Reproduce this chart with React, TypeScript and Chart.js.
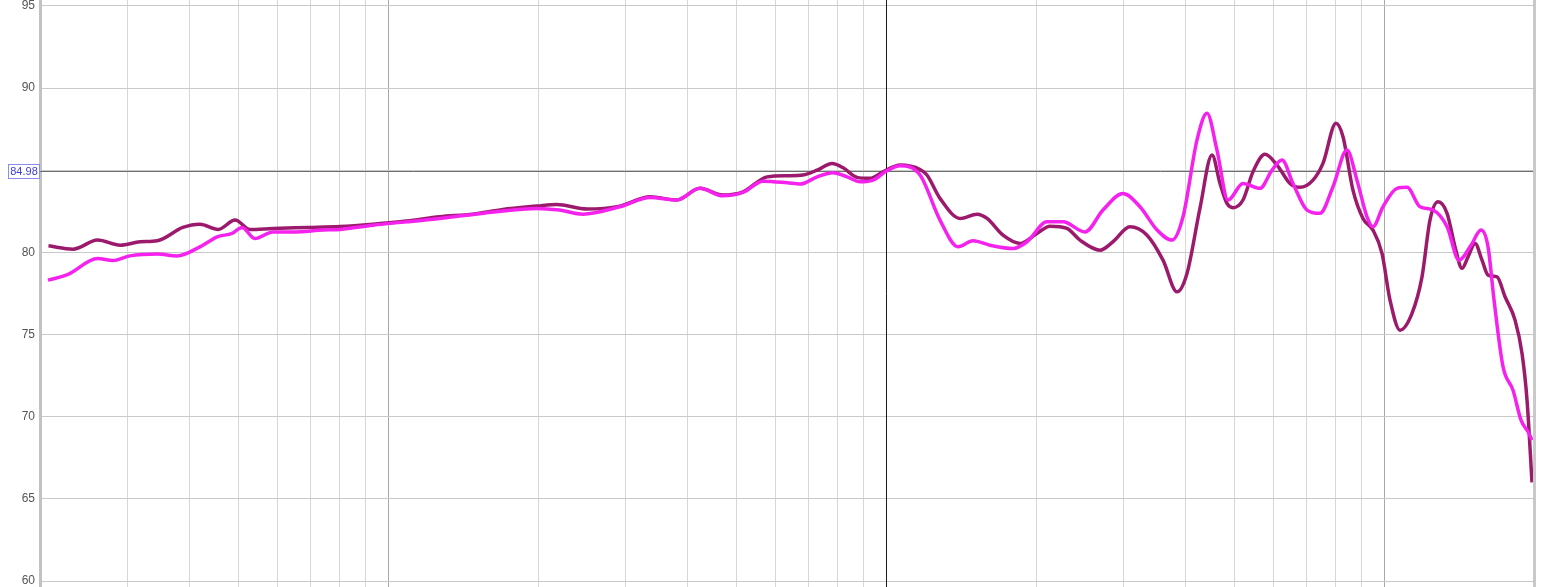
import { useEffect, useRef } from "react";
import { Chart, registerables } from "chart.js";

Chart.register(...registerables);

// Frequency response (Hz → dB SPL)
const freqDark = [20.8, 23.3, 26.1, 29.0, 31.8, 34.4, 38.7, 41.9, 45.6, 49.3, 52.8, 58.7, 68.8, 80.1, 93.3, 109, 127, 148, 170, 199, 218, 251, 292, 336, 380, 423, 470, 516, 577, 633, 681, 727, 779, 820, 874, 928, 986, 1067, 1170, 1208, 1283, 1408, 1523, 1595, 1717, 1858, 2009, 2134, 2308, 2451, 2689, 2855, 3088, 3342, 3598, 3839, 4020, 4269, 4513, 4683, 4837, 4973, 5208, 5455, 5766, 6096, 6472, 6778, 7198, 7538, 8006, 8270, 8660, 9070, 9500, 9904, 10278, 10764, 11378, 11916, 12364, 12834, 13380, 13882, 14338, 14742, 15228, 15728, 16172, 16860, 17494, 18322, 18924, 19368, 19816];
const splDark = [80.40, 80.20, 80.75, 80.44, 80.65, 80.71, 81.52, 81.72, 81.40, 81.97, 81.40, 81.46, 81.52, 81.58, 81.72, 81.91, 82.17, 82.33, 82.62, 82.82, 82.92, 82.64, 82.82, 83.39, 83.19, 83.90, 83.49, 83.69, 84.60, 84.67, 84.71, 85.01, 85.42, 85.15, 84.57, 84.51, 84.91, 85.32, 85.05, 84.71, 83.29, 82.07, 82.33, 82.07, 81.05, 80.55, 81.16, 81.60, 81.46, 80.75, 80.14, 80.65, 81.56, 81.05, 79.53, 77.60, 78.72, 82.70, 85.93, 84.20, 82.98, 82.72, 83.19, 84.91, 85.97, 85.32, 84.20, 83.96, 84.40, 85.42, 87.86, 87.04, 83.79, 82.07, 81.36, 79.94, 77.10, 75.27, 76.29, 78.51, 81.97, 83.08, 82.38, 80.34, 79.03, 79.73, 80.55, 79.53, 78.62, 78.51, 77.30, 75.88, 73.85, 71.00, 66.00];

const freqBright = [20.75, 22.76, 26.1, 28.0, 30.3, 34.4, 37.7, 41.9, 45.4, 48.6, 50.9, 54.0, 58.7, 64.4, 74.0, 80.1, 93.3, 109, 127, 148, 170, 199, 221, 246, 292, 336, 380, 423, 470, 516, 566, 633, 672, 727, 783, 835, 887, 941, 1004, 1067, 1170, 1283, 1395, 1495, 1617, 1798, 1919, 2104, 2266, 2509, 2726, 2990, 3235, 3501, 3751, 3947, 4210, 4410, 4618, 4860, 5208, 5634, 5956, 6238, 6562, 7002, 7434, 7896, 8424, 8822, 9240, 9500, 9950, 10616, 11118, 11806, 12540, 13380, 14140, 14948, 15656, 16172, 16626, 17334, 18152, 18836, 19544, 19816];
const splBright = [78.31, 78.66, 79.63, 79.51, 79.79, 79.90, 79.79, 80.34, 80.95, 81.16, 81.52, 80.85, 81.25, 81.25, 81.36, 81.40, 81.66, 81.86, 82.07, 82.31, 82.52, 82.68, 82.58, 82.33, 82.78, 83.35, 83.19, 83.90, 83.45, 83.65, 84.34, 84.24, 84.16, 84.60, 84.85, 84.60, 84.30, 84.40, 84.97, 85.27, 84.71, 81.97, 80.34, 80.71, 80.44, 80.24, 80.65, 81.86, 81.86, 81.25, 82.58, 83.59, 82.78, 81.36, 80.75, 82.17, 86.84, 88.47, 86.23, 83.19, 84.20, 83.90, 85.01, 85.62, 84.20, 82.58, 82.38, 84.00, 86.23, 84.40, 82.17, 81.56, 82.78, 83.90, 83.96, 82.78, 82.58, 81.56, 79.53, 80.44, 81.36, 80.34, 77.10, 73.03, 71.61, 69.79, 68.98, 68.57];

const yTickValues = [60, 65, 70, 75, 80, 85, 90, 95];
const xGridValues = [30, 40, 50, 60, 70, 80, 90, 100, 200, 300, 400, 500, 600, 700, 800, 900, 1000, 2000, 3000, 4000, 5000, 6000, 7000, 8000, 9000, 10000];
const majorGridValues = [100, 10000];
const cursorFreq = 1000;
const cursorLevel = 84.98;
const cursorLabel = "84.98";

const cursorPlugin = {
  id: "cursor",
  beforeDatasetsDraw(chart: any) {
    const { ctx, chartArea, scales } = chart;
    const x = Math.round(scales.x.getPixelForValue(cursorFreq)) + 0.5;
    const y = Math.round(scales.y.getPixelForValue(cursorLevel)) + 0.5;
    ctx.save();
    ctx.lineWidth = 1;
    ctx.strokeStyle = "#1a1a1a";
    ctx.beginPath();
    ctx.moveTo(x, chartArea.top);
    ctx.lineTo(x, chartArea.bottom);
    ctx.stroke();
    ctx.strokeStyle = "#6e6e6e";
    ctx.beginPath();
    ctx.moveTo(chartArea.left, y);
    ctx.lineTo(chartArea.right, y);
    ctx.stroke();
    ctx.restore();
  },
  afterDraw(chart: any) {
    const { ctx, chartArea, scales } = chart;
    ctx.save();
    // right frame
    ctx.strokeStyle = "#c9c9c9";
    ctx.lineWidth = 3;
    ctx.beginPath();
    ctx.moveTo(chartArea.right + 0.5, chartArea.top);
    ctx.lineTo(chartArea.right + 0.5, chartArea.bottom);
    ctx.stroke();
    // cursor value box
    const y = scales.y.getPixelForValue(cursorLevel);
    const bx = 8.5, bw = 31, bh = 14;
    const by = Math.round(y - bh / 2) + 0.5;
    ctx.fillStyle = "#ffffff";
    ctx.fillRect(bx, by, bw, bh);
    ctx.strokeStyle = "#8c8cf0";
    ctx.lineWidth = 1;
    ctx.strokeRect(bx, by, bw, bh);
    ctx.fillStyle = "#3c3cd8";
    ctx.font = "11px 'Liberation Sans', Arial, sans-serif";
    ctx.textAlign = "center";
    ctx.textBaseline = "middle";
    ctx.fillText(cursorLabel, bx + bw / 2, by + bh / 2 + 0.5);
    ctx.restore();
  },
};

export default function App() {
  const canvasRef = useRef<HTMLCanvasElement | null>(null);

  useEffect(() => {
    const canvas = canvasRef.current;
    if (!canvas) return;
    const chart = new Chart(canvas, {
      type: "line",
      data: {
        datasets: [
          {
            label: "B",
            data: freqBright.map((f, i) => ({ x: f, y: splBright[i] })),
            borderColor: "#f522ee",
            borderWidth: 3.5,
            pointRadius: 0,
            cubicInterpolationMode: "monotone",
            fill: false,
          },
          {
            label: "A",
            data: freqDark.map((f, i) => ({ x: f, y: splDark[i] })),
            borderColor: "#9c1a6c",
            borderWidth: 3.5,
            pointRadius: 0,
            cubicInterpolationMode: "monotone",
            fill: false,
          },
        ],
      },
      options: {
        responsive: false,
        animation: false,
        devicePixelRatio: 1,
        layout: { padding: { left: 0, right: 18, top: 0, bottom: 0 } },
        plugins: { legend: { display: false }, tooltip: { enabled: false } },
        events: [],
        scales: {
          x: {
            type: "logarithmic",
            min: 20,
            max: 20000,
            position: "bottom",
            ticks: { display: false },
            grid: {
              drawTicks: false,
              lineWidth: 1,
              color: (ctx: any) =>
                ctx.tick && majorGridValues.includes(ctx.tick.value) ? "#a8a8a8" : "#d6d6d6",
            },
            border: { display: false },
            afterBuildTicks: (scale: any) => {
              scale.ticks = xGridValues.map((v) => ({ value: v }));
            },
            afterFit: (scale: any) => {
              scale.height = 0;
              scale.paddingLeft = 0;
              scale.paddingRight = 0;
            },
          },
          y: {
            type: "linear",
            min: 59.635,
            max: 95.365,
            ticks: {
              color: "#555555",
              font: { family: "'Liberation Sans', Arial, sans-serif", size: 12 },
              padding: 5,
            },
            grid: { drawTicks: false, color: "#c9c9c9", lineWidth: 1 },
            border: { display: true, color: "#c2c2c2", width: 3 },
            afterBuildTicks: (scale: any) => {
              scale.ticks = yTickValues.map((v) => ({ value: v }));
            },
            afterFit: (scale: any) => {
              scale.width = 40;
              scale.paddingTop = 0;
              scale.paddingBottom = 0;
            },
          },
        },
      },
      plugins: [cursorPlugin],
    } as any);
    return () => chart.destroy();
  }, []);

  return (
    <div style={{ position: "fixed", left: 0, top: 0, width: 1552, height: 587, background: "#ffffff" }}>
      <canvas ref={canvasRef} width={1552} height={587} style={{ display: "block" }} />
    </div>
  );
}
